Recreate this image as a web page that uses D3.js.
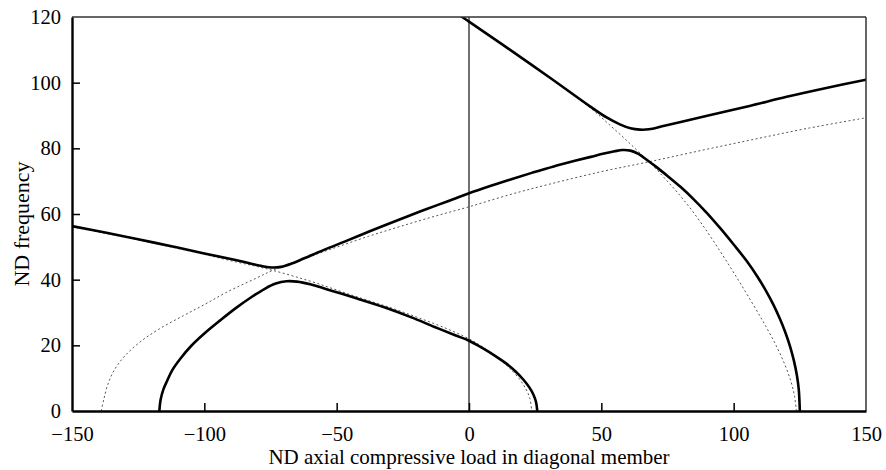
<!DOCTYPE html>
<html>
<head>
<meta charset="utf-8">
<script src="https://cdn.jsdelivr.net/npm/d3@7"></script>
<style>
  html, body { margin: 0; padding: 0; background: #fff; }
  svg { display: block; }
  svg text { font-family: "Liberation Serif", "Times New Roman", Tinos, "DejaVu Serif", serif; fill: #000; }
</style>
</head>
<body>
<svg id="chart" width="886" height="470"></svg>
<script>
// Axis ranges and ticks
const xDomain = [-150, 150];
const yDomain = [0, 120];
const xTicks = [-150, -100, -50, 0, 50, 100, 150];
const yTicks = [0, 20, 40, 60, 80, 100, 120];
const xTitle = "ND axial compressive load in diagonal member";
const yTitle = "ND frequency";

// Coupled frequency branches (solid), [load, frequency]
const branchUpperLeft = [
  [-150, 56.3], [-137, 54.3], [-125, 52.3], [-112, 50.1], [-100, 48.0], [-90, 46.3],
  [-83, 45.0], [-78, 44.1], [-74.5, 43.7], [-71, 43.9], [-67, 44.9], [-62, 46.6],
  [-55, 49.0], [-47, 51.6], [-40, 53.9], [-33, 56.2], [-26, 58.4], [-19, 60.6],
  [-12, 62.7], [-6, 64.5], [0, 66.3], [8, 68.5], [16, 70.6], [24, 72.6], [32, 74.5],
  [40, 76.2], [46, 77.4], [51, 78.4], [55, 79.1], [58, 79.5], [61, 79.3], [64, 78.3],
  [67, 76.6], [71, 74.2], [75, 71.6], [80, 68.2], [85, 64.4], [90, 60.2], [95, 55.6],
  [100, 50.7], [105, 45.6], [109, 40.9], [112, 36.9], [115, 32.4], [117.5, 28.0],
  [119.5, 24.0], [121.3, 19.7], [122.8, 15.2], [123.9, 10.8], [124.6, 6.5], [125, 0]
];
const branchTop = [
  [-3.5, 120.5], [0, 118.6], [15, 110.3], [30.6, 101.5], [45.7, 92.8], [52, 89.4],
  [57, 87.3], [61, 86.1], [64.6, 85.7], [68, 85.8], [73, 86.7], [80, 88.0],
  [90, 89.9], [106, 92.9], [120, 95.7], [135, 98.4], [150, 100.9]
];
const branchLower = [
  [-117, 0], [-116.5, 3.5], [-115.5, 6.5], [-114, 9.3], [-112, 12.6], [-109, 16.0],
  [-105, 19.8], [-100, 23.6], [-94, 27.6], [-88, 31.4], [-82, 34.8], [-77, 37.3],
  [-73, 38.8], [-69, 39.5], [-65, 39.4], [-60, 38.6], [-51, 36.4], [-42, 34.2],
  [-32, 31.6], [-22, 28.6], [-13, 25.6], [-5, 23.0], [0, 21.4], [5, 19.2],
  [10, 16.7], [14, 14.5], [17.5, 12.1], [20.5, 9.6], [22.8, 7.2], [24.4, 4.9],
  [25.3, 2.8], [25.8, 0]
];

// Uncoupled modes (dotted)
const modeRising = [
  [-139, 0], [-138, 3.5], [-136.5, 8], [-134, 12.5], [-130, 16.8], [-124, 21.2],
  [-117, 25.0], [-108, 29.0], [-100, 32.4], [-91.5, 36.2], [-80, 40.6], [-74, 42.9],
  [-62, 46.5], [-50, 49.9], [-38, 53.2], [-26, 56.2], [-13, 59.3], [0, 62.2],
  [15, 65.8], [30, 69.0], [50, 72.9], [68, 75.9], [88, 79.4], [108, 82.8],
  [128, 86.1], [150, 89.3]
];
const modeFalling = [
  [-150, 56.1], [-125, 52.1], [-100, 47.7], [-88, 45.4], [-80, 44.0], [-74, 42.8],
  [-66, 41.0], [-57.5, 38.9], [-48, 36.3], [-38.6, 33.8], [-29, 31.3], [-19.8, 28.6],
  [-10, 25.6], [0, 22.0], [5, 19.6], [10, 16.7], [15, 13.3], [19, 9.8],
  [21.5, 6.7], [23, 3.8], [23.7, 0]
];
const modeSteep = [
  [-3.5, 120.5], [0, 118.6], [15, 110.3], [30.6, 101.4], [45.7, 92.4], [54, 86.5],
  [61.4, 81.0], [68.4, 75.6], [74.6, 70.3], [80.9, 64.5], [87.5, 57.5], [94.2, 49.5],
  [100.9, 41.0], [107.3, 32.5], [112, 26.0], [116, 20.0], [119.3, 14.2],
  [121.7, 8.8], [123, 4.5], [123.7, 0]
];

const svg = d3.select("#chart");

const x = d3.scaleLinear().domain(xDomain).range([72, 866]);
const y = d3.scaleLinear().domain(yDomain).range([411, 17]);

svg.append("defs").append("clipPath").attr("id", "plot")
  .append("rect")
  .attr("x", x(xDomain[0])).attr("y", y(yDomain[1]))
  .attr("width", x(xDomain[1]) - x(xDomain[0]))
  .attr("height", y(yDomain[0]) - y(yDomain[1]));

const line = d3.line()
  .x(d => x(d[0])).y(d => y(d[1]))
  .curve(d3.curveCatmullRom.alpha(0.5));

const plot = svg.append("g").attr("clip-path", "url(#plot)");

// Zero-load reference line
plot.append("line")
  .attr("x1", x(0)).attr("x2", x(0))
  .attr("y1", y(yDomain[0])).attr("y2", y(yDomain[1]))
  .attr("stroke", "#111").attr("stroke-width", 1.2);

// Uncoupled modes
[modeRising, modeFalling, modeSteep].forEach(data => {
  plot.append("path")
    .datum(data)
    .attr("d", line)
    .attr("fill", "none")
    .attr("stroke", "#555")
    .attr("stroke-width", 1)
    .attr("stroke-dasharray", "2,2.5");
});

// Coupled branches
[branchUpperLeft, branchTop, branchLower].forEach(data => {
  plot.append("path")
    .datum(data)
    .attr("d", line)
    .attr("fill", "none")
    .attr("stroke", "#000")
    .attr("stroke-width", 2.6)
    .attr("stroke-linejoin", "round")
    .attr("stroke-linecap", "round");
});

// Frame: top and right lighter, left and bottom heavier
svg.append("line")
  .attr("x1", x(xDomain[0])).attr("x2", x(xDomain[1]))
  .attr("y1", y(yDomain[1])).attr("y2", y(yDomain[1]))
  .attr("stroke", "#333").attr("stroke-width", 1.5);
svg.append("line")
  .attr("x1", x(xDomain[1])).attr("x2", x(xDomain[1]))
  .attr("y1", y(yDomain[1])).attr("y2", y(yDomain[0]))
  .attr("stroke", "#333").attr("stroke-width", 1.5);

// Axes with inward ticks
const fmt = d => d < 0 ? "\u2212" + Math.abs(d) : String(d);
const xAxis = d3.axisBottom(x).tickValues(xTicks).tickSizeInner(-8).tickSizeOuter(0)
  .tickPadding(15).tickFormat(fmt);
const yAxis = d3.axisLeft(y).tickValues(yTicks).tickSizeInner(-8).tickSizeOuter(0)
  .tickPadding(11).tickFormat(fmt);

const gx = svg.append("g").attr("transform", `translate(0,${y(0)})`).call(xAxis);
const gy = svg.append("g").attr("transform", `translate(${x(xDomain[0])},0)`).call(yAxis);

[gx, gy].forEach(g => {
  g.attr("font-family", null);
  g.select(".domain").attr("stroke", "#000").attr("stroke-width", 2.4);
  g.selectAll(".tick line").attr("stroke", "#000").attr("stroke-width", 1.5);
  g.selectAll(".tick text")
    .attr("font-size", 20.5)
    .attr("fill", "#000");
});
// End ticks coincide with the frame corners
gx.selectAll(".tick line").filter(d => d === xDomain[0] || d === xDomain[1]).remove();
gy.selectAll(".tick line").filter(d => d === yDomain[0] || d === yDomain[1]).remove();

// Axis titles
svg.append("text")
  .attr("x", x(0)).attr("y", 464)
  .attr("text-anchor", "middle")
  .attr("font-size", 21)
  .text(xTitle);

svg.append("text")
  .attr("transform", `translate(29,${(y(0) + y(120)) / 2 + 10}) rotate(-90)`)
  .attr("text-anchor", "middle")
  .attr("font-size", 22)
  .text(yTitle);
</script>
</body>
</html>
